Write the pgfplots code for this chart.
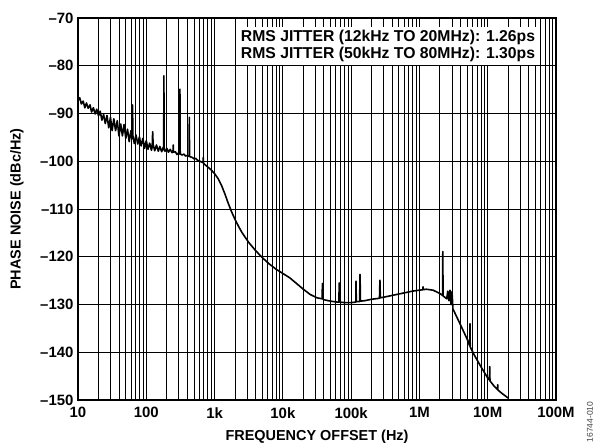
\documentclass[border=0pt]{standalone}
\usepackage{fontspec}
\setmainfont{Liberation Sans}
\usepackage{pgfplots}
\pgfplotsset{compat=1.18}
\begin{document}
\begin{tikzpicture}
\path[use as bounding box] (-78bp,-45bp) rectangle (520bp,400bp);
\begin{axis}[
  scale only axis, width=478bp, height=382bp,
  xmode=log, xmin=10, xmax=1e8, ymin=-150, ymax=-70,
  log basis x=10,
  xtick={10,100,1000,10000,100000,1000000,10000000,100000000},
  xticklabels={10,100,1k,10k,100k,1M,10M,100M},
  minor xtick={20,30,40,50,60,70,80,90,200,300,400,500,600,700,800,900,
    2000,3000,4000,5000,6000,7000,8000,9000,20000,30000,40000,50000,60000,70000,80000,90000,
    200000,300000,400000,500000,600000,700000,800000,900000,
    2000000,3000000,4000000,5000000,6000000,7000000,8000000,9000000,
    20000000,30000000,40000000,50000000,60000000,70000000,80000000,90000000},
  ytick={-150,-140,-130,-120,-110,-100,-90,-80,-70},
  yticklabels={\textendash150,\textendash140,\textendash130,\textendash120,\textendash110,\textendash100,\textendash90,\textendash80,\textendash70},
  ticklabel style={font=\fontsize{15}{16}\selectfont\bfseries},
  xticklabel style={yshift=-4bp},
  yticklabel style={xshift=-1bp},
  xmajorgrids, xminorgrids, ymajorgrids,
  major grid style={black, line width=1pt},
  minor grid style={black, line width=1pt},
  major tick length=0pt, minor tick length=0pt,
  axis line style={line width=1.6pt},
  xlabel={FREQUENCY OFFSET (Hz)}, ylabel={PHASE NOISE (dBc/Hz)},
  every axis x label/.style={at={(axis description cs:0.5,0)}, yshift=-37bp, anchor=center,
    font=\fontsize{14.5}{16}\selectfont\bfseries},
  every axis y label/.style={at={(axis description cs:0,0.5)}, xshift=-61bp, rotate=90, anchor=center,
    font=\fontsize{14.5}{16}\selectfont\bfseries},
]
\addplot[black, line width=1.6pt, line join=round] coordinates {
(10.0,-87.3) (10.6,-86.7) (11.2,-88.0) (11.9,-87.4) (12.6,-88.8) (13.3,-87.8) (14.1,-88.9) (15.0,-88.2)
(15.8,-89.7) (16.8,-88.8) (17.8,-90.1) (18.8,-89.1) (20.0,-90.5) (21.1,-89.5) (22.4,-91.4) (23.7,-90.2)
(25.1,-92.1) (26.6,-90.4) (28.2,-93.0) (29.9,-90.8) (31.6,-93.6) (33.5,-91.1) (35.5,-93.6) (37.6,-91.5)
(39.8,-94.7) (42.2,-92.2) (44.7,-94.7) (47.3,-92.3) (50.1,-95.2) (53.1,-93.3) (56.2,-95.9) (59.6,-93.6)
(61.7,-95.3) (62.5,-94.8) (63.0,-88.2) (63.6,-94.6) (66.8,-96.3) (70.8,-94.5) (75.0,-96.4) (79.4,-94.9)
(84.1,-96.8) (89.1,-95.2) (94.4,-97.3) (100,-95.7) (106,-97.5) (112,-96.2) (119,-97.7) (122,-97.0)
(124,-93.8) (126,-96.5) (133,-97.8) (141,-96.6) (150,-97.9) (158,-96.9) (168,-98.0) (178,-97.0)
(180,-97.6) (181,-82.1) (183,-97.6) (188,-97.9) (200,-97.3) (211,-98.1) (224,-97.5) (237,-98.2)
(246,-98.1) (248,-96.6) (250,-98.1) (266,-98.0) (282,-98.6) (299,-98.2) (308,-98.5) (311,-84.9)
(314,-98.5) (335,-98.7) (355,-98.5) (376,-98.9) (398,-98.8) (424,-99.0) (427,-90.8) (430,-99.0)
(447,-99.1) (473,-99.2) (501,-99.5) (531,-99.4) (562,-99.8) (596,-99.9) (631,-100.1) (680,-100.3)
(684,-99.2) (688,-100.4) (708,-100.6) (794,-101.2) (891,-101.8) (1000,-102.6) (1122,-103.6)
(1259,-105.0) (1413,-106.8) (1585,-108.8) (1778,-110.6) (1995,-112.2) (2239,-113.6) (2512,-114.9)
(3162,-117.0) (3981,-118.7) (5012,-120.2) (6310,-121.5) (7943,-122.6) (10000,-123.5) (12589,-124.4)
(15849,-125.6) (19953,-126.8) (25119,-127.9) (31623,-128.6) (37500,-128.8) (38000,-125.6)
(38500,-128.8) (39811,-129.0) (50119,-129.3) (63096,-129.5) (66000,-129.5) (67000,-125.5)
(68000,-129.5) (79433,-129.6) (100000,-129.6) (117000,-129.5) (118000,-125.1) (119000,-129.4)
(133000,-129.4) (135000,-123.7) (137000,-129.3) (158489,-129.2) (199526,-128.9) (260000,-128.7)
(264000,-124.9) (268000,-128.6) (316228,-128.4) (501187,-127.8) (794328,-127.2) (1120000,-126.9)
(1130000,-126.3) (1140000,-126.9) (1259000,-126.8) (1585000,-127.0) (1995000,-127.7) (2180000,-128.1)
(2200000,-118.9) (2220000,-128.2) (2512000,-128.8) (2600000,-127.2) (2700000,-129.2) (2800000,-127.0)
(2900000,-130.0) (3000000,-127.3) (3100000,-131.0) (3162000,-131.2) (3980000,-134.2) (5010000,-137.3)
(5450000,-138.7) (5500000,-134.0) (5550000,-138.9) (6310000,-140.5) (7940000,-143.0) (10000000,-145.4)
(10600000,-145.8) (10700000,-143.0) (10800000,-146.0) (12600000,-147.2) (13900000,-147.8)
(14000000,-146.8) (14100000,-147.9) (15800000,-148.5) (20000000,-149.6)
};
\node[fill=white, anchor=north east, align=right, inner xsep=3bp, inner ysep=3bp,
  font=\fontsize{15.8}{17.5}\selectfont\bfseries]
  at (rel axis cs:0.963,0.977)
  {RMS JITTER (12kHz TO 20MHz): 1.26ps\\RMS JITTER (50kHz TO 80MHz): 1.30ps};
\end{axis}
\node[rotate=90, font=\fontsize{8.5}{9}\selectfont, text=black!75] at (512bp,-22bp) {16744-010};
\end{tikzpicture}
\end{document}
